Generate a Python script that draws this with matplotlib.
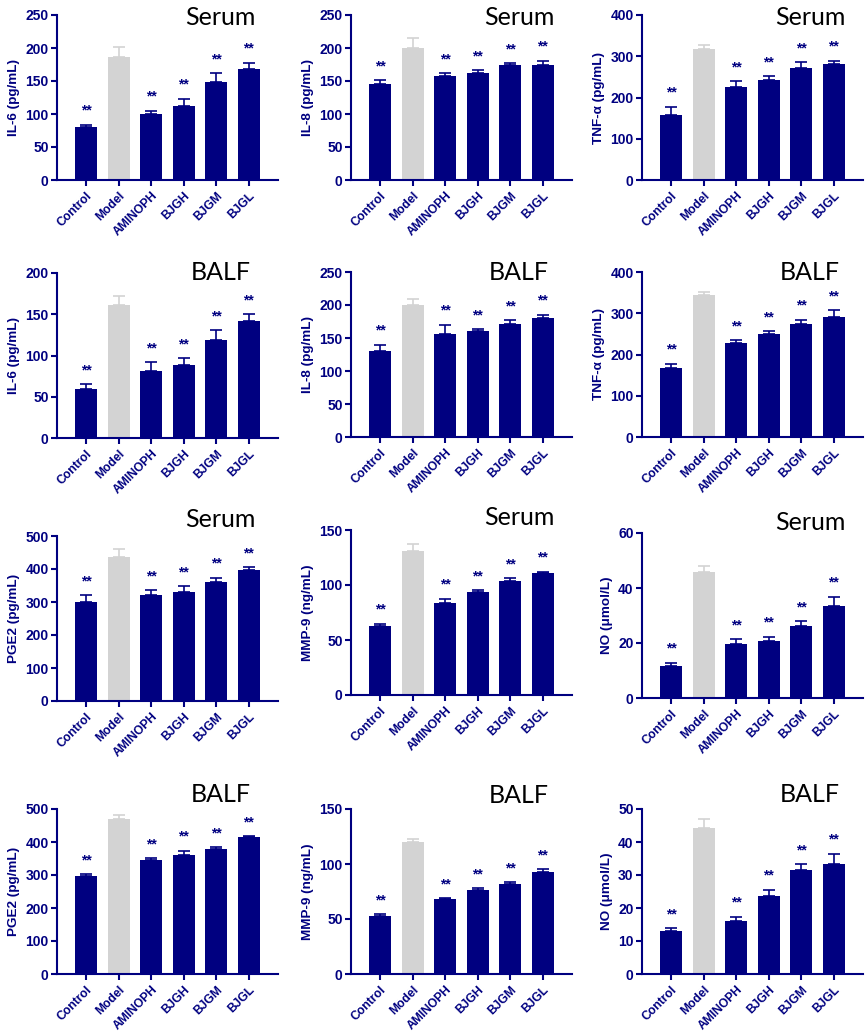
import matplotlib
matplotlib.use("Agg")
import matplotlib.pyplot as plt
import numpy as np

# %% data (mean and upper error)
groups = ["Control", "Model", "AMINOPH", "BJGH", "BJGM", "BJGL"]

il6_serum = [80.8, 187, 99.5, 112.6, 149, 167.7]
il6_serum_err = [3.0, 14, 5.5, 10.4, 12.6, 10.3]
il8_serum = [145.5, 199.5, 158, 161.6, 175, 174]
il8_serum_err = [6.0, 15, 3.6, 5.1, 1.8, 7.0]
tnf_serum = [157, 318, 225, 242, 271, 281]
tnf_serum_err = [21, 9, 15, 10, 15, 8]

il6_balf = [59, 161, 81, 88, 119, 142]
il6_balf_err = [6, 11, 11, 9, 12, 8]
il8_balf = [130, 200, 156, 160, 171, 180]
il8_balf_err = [10, 9, 14, 3, 6, 5]
tnf_balf = [168, 345, 227, 249, 273, 290]
tnf_balf_err = [10, 5.5, 8, 8, 11, 18]

pge2_serum = [300, 435.5, 320.5, 331, 361, 396]
pge2_serum_err = [20, 26.5, 15.5, 17, 13, 10]
mmp9_serum = [62.7, 130.8, 84, 93.7, 104, 111]
mmp9_serum_err = [2.1, 6.2, 3.6, 1.5, 2, 1]
no_serum = [11.6, 46, 19.8, 20.7, 26.2, 33.5]
no_serum_err = [1.2, 2, 1.5, 1.6, 1.8, 3.3]

pge2_balf = [296, 468.5, 346, 361, 378, 414]
pge2_balf_err = [7, 12.5, 5, 12, 6, 4]
mmp9_balf = [52.6, 120, 67.8, 76, 81.8, 93]
mmp9_balf_err = [1.9, 3, 1.2, 1.9, 1.9, 2.5]
no_balf = [13, 44.1, 16, 23.6, 31.6, 33.3]
no_balf_err = [0.9, 2.9, 1.3, 2, 1.6, 3.2]

panels = [
    (il6_serum, il6_serum_err, "IL-6 (pg/mL)", 250, 50, "Serum"),
    (il8_serum, il8_serum_err, "IL-8 (pg/mL)", 250, 50, "Serum"),
    (tnf_serum, tnf_serum_err, "TNF-α (pg/mL)", 400, 100, "Serum"),
    (il6_balf, il6_balf_err, "IL-6 (pg/mL)", 200, 50, "BALF"),
    (il8_balf, il8_balf_err, "IL-8 (pg/mL)", 250, 50, "BALF"),
    (tnf_balf, tnf_balf_err, "TNF-α (pg/mL)", 400, 100, "BALF"),
    (pge2_serum, pge2_serum_err, "PGE2 (pg/mL)", 500, 100, "Serum"),
    (mmp9_serum, mmp9_serum_err, "MMP-9 (ng/mL)", 150, 50, "Serum"),
    (no_serum, no_serum_err, "NO (μmol/L)", 60, 20, "Serum"),
    (pge2_balf, pge2_balf_err, "PGE2 (pg/mL)", 500, 100, "BALF"),
    (mmp9_balf, mmp9_balf_err, "MMP-9 (ng/mL)", 150, 50, "BALF"),
    (no_balf, no_balf_err, "NO (μmol/L)", 50, 10, "BALF"),
]

# %% layout in pixels
W, H = 865, 1031
col_left = [57, 351, 642]
row_top = [[15, 15, 15], [273, 272, 272], [536, 530, 533], [809, 809, 809]]
ax_w, ax_h = 221, 165
title_y = [[0.94, 0.94, 0.94], [0.955, 0.95, 0.95], [1.055, 1.03, 1.02], [1.04, 1.036, 1.04]]
title_x = [0.74, 0.76, 0.76]

navy = "#000080"
grey = "#d3d3d3"

plt.rcParams["font.family"] = ["Liberation Sans", "DejaVu Sans"]

fig = plt.figure(figsize=(W / 100, H / 100), dpi=100)

x = np.arange(len(groups))
colors = [navy, grey, navy, navy, navy, navy]

for k, (vals, errs, ylab, ymax, ystep, tissue) in enumerate(panels):
    r, c = divmod(k, 3)
    top = row_top[r][c]
    ax = fig.add_axes([col_left[c] / W, 1 - (top + ax_h) / H, ax_w / W, ax_h / H])
    ax.bar(x, vals, width=0.67, color=colors, zorder=2)
    for i in range(len(x)):
        ax.errorbar(x[i], vals[i], yerr=[[0], [errs[i]]], fmt="none",
                    ecolor=colors[i], elinewidth=1.2, capsize=4, capthick=1.2, zorder=1)
        if groups[i] != "Model":
            ax.annotate("**", (x[i], vals[i] + errs[i]), xytext=(0, 5),
                        textcoords="offset points", ha="center", va="bottom",
                        color=navy, fontsize=10, fontweight="bold")
    ax.set_xlim(-0.9, 5.9)
    ax.set_ylim(0, ymax)
    ax.set_yticks(np.arange(0, ymax + 1, ystep))
    ax.set_xticks(x)
    ax.set_xticklabels(groups, rotation=45, ha="right", rotation_mode="anchor",
                       fontsize=8.7, fontweight="bold", color=navy)
    for lab in ax.get_yticklabels():
        lab.set_fontweight("bold")
        lab.set_color(navy)
        lab.set_fontsize(10)
    ax.set_ylabel(ylab, fontsize=9.7, fontweight="bold", color=navy, labelpad=4)
    for s in ["top", "right"]:
        ax.spines[s].set_visible(False)
    for s in ["left", "bottom"]:
        ax.spines[s].set_color(navy)
        ax.spines[s].set_linewidth(1.5)
    ax.tick_params(axis="both", colors=navy, width=1.5, length=4)
    ax.tick_params(axis="y", pad=2)
    ax.tick_params(axis="x", pad=3)
    ax.text(title_x[c], title_y[r][c], tissue, transform=ax.transAxes,
            ha="center", va="baseline", fontsize=18, family="Lato", color="black")

fig.savefig("out.png", dpi=100)
